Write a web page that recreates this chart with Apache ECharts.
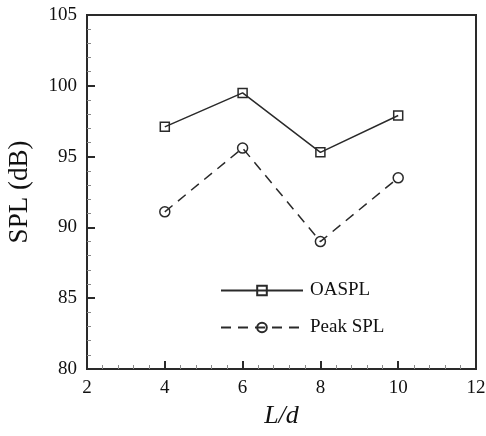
<!DOCTYPE html>
<html><head><meta charset="utf-8">
<script src="https://cdn.jsdelivr.net/npm/echarts@6/dist/echarts.min.js"></script>
<style>html,body{margin:0;padding:0;background:#fff}#c{width:486px;height:436px}</style>
</head><body><div id="c"></div>
<script>
const xValues = [4, 6, 8, 10];
const oaspl = [97.1, 99.5, 95.3, 97.9];
const peakSpl = [91.1, 95.6, 89.0, 93.5];
const seriesNames = ['OASPL', 'Peak SPL'];

const font = 'Liberation Serif, Times New Roman, serif';
const ink = '#2a2a2a';
const chart = echarts.init(document.getElementById('c'), null, {renderer: 'canvas'});
const pairs = ys => xValues.map((x, i) => [x, ys[i]]);
const axisCommon = {
  axisLine: {show: true, onZero: false, lineStyle: {color: ink, width: 2}},
  axisTick: {show: true, inside: true, length: 8, lineStyle: {color: ink, width: 2}},
  minorTick: {show: true, splitNumber: 5, length: 4, lineStyle: {color: '#888', width: 1}},
  splitLine: {show: false},
  axisLabel: {color: '#111', fontFamily: font, fontSize: 19, margin: 10}
};
chart.setOption({
  animation: false,
  grid: {left: 87, top: 15, right: 10, bottom: 67, outerBoundsMode: 'none', containLabel: false,
    show: true, borderColor: ink, borderWidth: 2, backgroundColor: 'transparent'},
  xAxis: Object.assign({type: 'value', min: 2, max: 12, interval: 2,
    name: 'L/d', nameLocation: 'middle', nameGap: 29,
    nameTextStyle: {fontFamily: font, fontSize: 26, fontStyle: 'italic', color: '#111'}}, axisCommon),
  yAxis: Object.assign({type: 'value', min: 80, max: 105, interval: 5,
    name: 'SPL (dB)', nameLocation: 'middle', nameGap: 54,
    nameTextStyle: {fontFamily: font, fontSize: 27, color: '#111'}}, axisCommon),
  legend: {
    orient: 'vertical', left: 215, top: 276, itemGap: 18, itemWidth: 82, itemHeight: 12,
    textStyle: {fontFamily: font, fontSize: 19, color: '#111', padding: [0, 0, 0, 2]},
    data: seriesNames
  },
  series: [
    {name: seriesNames[0], type: 'line', data: pairs(oaspl), symbol: 'rect', symbolSize: 9,
     lineStyle: {color: ink, width: 1.5}, itemStyle: {color: 'rgba(0,0,0,0)', borderColor: ink, borderWidth: 1.5}},
    {name: seriesNames[1], type: 'line', data: pairs(peakSpl), symbol: 'circle', symbolSize: 10,
     lineStyle: {color: ink, width: 1.5, type: [10, 7]}, itemStyle: {color: 'rgba(0,0,0,0)', borderColor: ink, borderWidth: 1.5}}
  ]
});
</script></body></html>
